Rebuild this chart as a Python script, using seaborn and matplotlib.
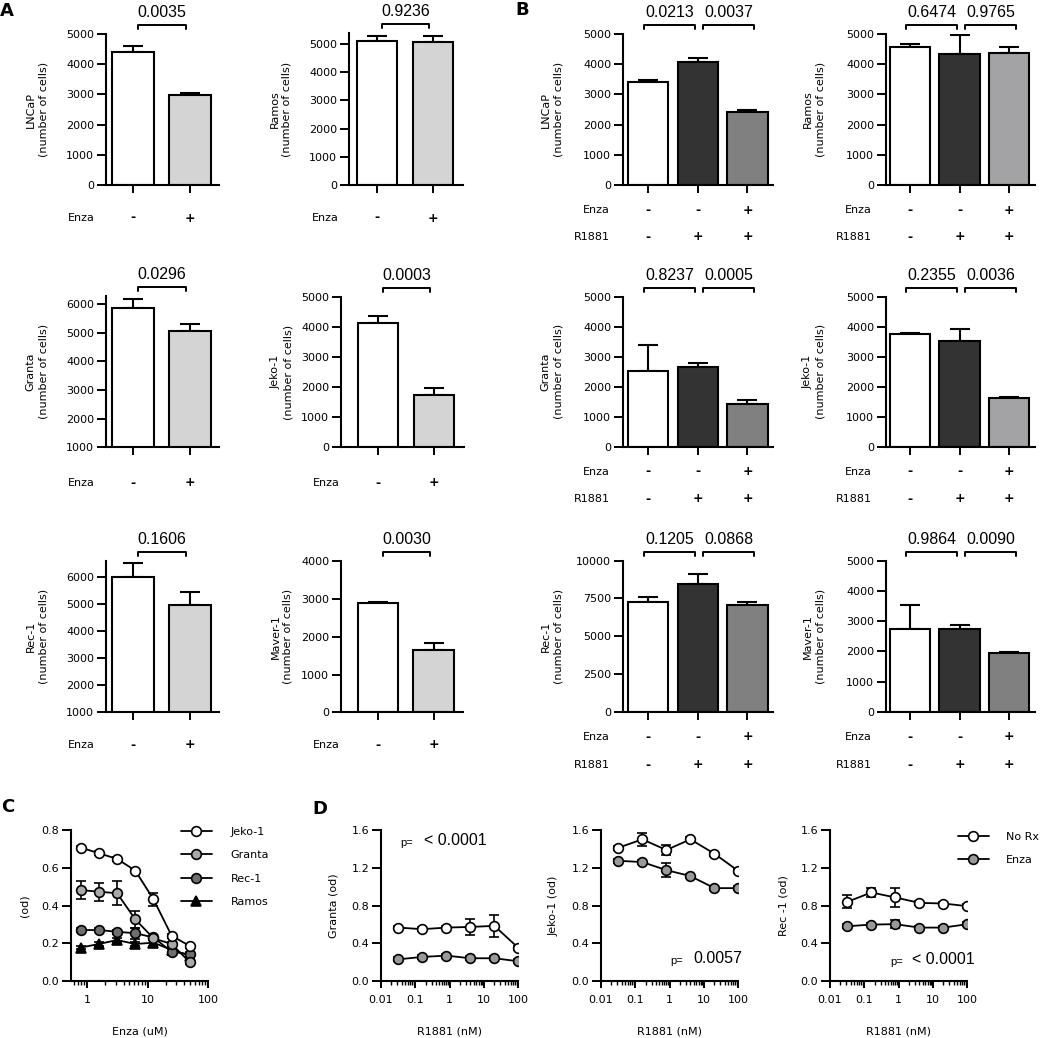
import matplotlib
matplotlib.use("Agg")
import matplotlib.pyplot as plt
import matplotlib.transforms as mtransforms
from matplotlib.ticker import LogLocator, NullFormatter, FormatStrFormatter
import seaborn as sns
import numpy as np

sns.set_theme(style="ticks")
plt.rcParams["font.family"] = ["DejaVu Sans"]
plt.rcParams.update({
    "axes.edgecolor": "black", "xtick.color": "black", "ytick.color": "black",
    "text.color": "black", "axes.labelcolor": "black", "axes.linewidth": 1.5,
})

# ---------------- data ----------------
# panel A : cell counts, Enza - / +
a_enza = ["-", "+"]
a_lncap, a_lncap_err = [4404, 2980], [210, 55]
a_ramos, a_ramos_err = [5095, 5070], [200, 200]
a_granta, a_granta_err = [5860, 5056], [315, 265]
a_jeko, a_jeko_err = [4120, 1727], [250, 250]
a_rec, a_rec_err = [6024, 4953], [500, 515]
a_maver, a_maver_err = [2903, 1642], [25, 185]
a_pvals = ["0.0035", "0.9236", "0.0296", "0.0003", "0.1606", "0.0030"]

# panel B : cell counts, (Enza, R1881) = (-,-), (-,+), (+,+)
b_enza = ["-", "-", "+"]
b_r1881 = ["-", "+", "+"]
b_lncap, b_lncap_err = [3420, 4083, 2407], [55, 130, 85]
b_ramos, b_ramos_err = [4579, 4338, 4360], [100, 640, 200]
b_granta, b_granta_err = [2533, 2647, 1413], [857, 153, 144]
b_jeko, b_jeko_err = [3770, 3530, 1630], [30, 380, 10]
b_rec, b_rec_err = [7245, 8457, 7086], [330, 680, 180]
b_maver, b_maver_err = [2738, 2738, 1944], [805, 123, 40]
b_pvals_lncap = ["0.0213", "0.0037"]
b_pvals_ramos = ["0.6474", "0.9765"]
b_pvals_granta = ["0.8237", "0.0005"]
b_pvals_jeko = ["0.2355", "0.0036"]
b_pvals_rec = ["0.1205", "0.0868"]
b_pvals_maver = ["0.9864", "0.0090"]

# panel C : od vs Enza (uM)
c_conc = [0.78, 1.56, 3.125, 6.25, 12.5, 25, 50]
c_jeko = [0.707, 0.677, 0.647, 0.585, 0.433, 0.240, 0.185]
c_jeko_err = [0.01, 0.01, 0.01, 0.01, 0.035, 0.01, 0.01]
c_granta = [0.482, 0.473, 0.465, 0.327, 0.226, 0.196, 0.099]
c_granta_err = [0.05, 0.048, 0.064, 0.045, 0.01, 0.01, 0.01]
c_rec = [0.270, 0.270, 0.261, 0.253, 0.231, 0.155, 0.141]
c_rec_err = [0.01, 0.01, 0.01, 0.03, 0.01, 0.015, 0.01]
c_ramos = [0.177, 0.196, 0.217, 0.196, 0.203, 0.165, 0.135]
c_ramos_err = [0.01, 0.01, 0.01, 0.01, 0.015, 0.01, 0.01]

# panel D : od vs R1881 (nM)
d_r1881 = [0.032, 0.16, 0.8, 4, 20, 100]
d_granta_norx = [0.566, 0.549, 0.566, 0.573, 0.584, 0.350]
d_granta_norx_err = [0.02, 0.02, 0.02, 0.085, 0.115, 0.02]
d_granta_enza = [0.230, 0.255, 0.269, 0.241, 0.241, 0.209]
d_granta_enza_err = [0.02, 0.02, 0.02, 0.02, 0.02, 0.02]
d_jeko_norx = [1.412, 1.501, 1.388, 1.501, 1.349, 1.165]
d_jeko_norx_err = [0.02, 0.07, 0.05, 0.02, 0.02, 0.02]
d_jeko_enza = [1.274, 1.260, 1.175, 1.112, 0.984, 0.984]
d_jeko_enza_err = [0.02, 0.02, 0.075, 0.02, 0.02, 0.02]
d_rec_norx = [0.839, 0.938, 0.885, 0.828, 0.821, 0.793]
d_rec_norx_err = [0.07, 0.05, 0.1, 0.02, 0.02, 0.02]
d_rec_enza = [0.580, 0.598, 0.602, 0.566, 0.566, 0.602]
d_rec_enza_err = [0.02, 0.02, 0.04, 0.02, 0.02, 0.02]

# ---------------- layout helpers (pixels) ----------------
W, H = 1050, 1038
fig = plt.figure(figsize=(W / 100, H / 100), dpi=100)
PFONT = ["Liberation Sans", "DejaVu Sans"]
FS = 8


def fy(py):
    return 1 - py / H


def add_ax(L, R, top, bottom):
    return fig.add_axes([L / W, fy(bottom), (R - L) / W, (bottom - top) / H])


def style_ax(ax):
    sns.despine(ax=ax)
    for s in ("left", "bottom"):
        ax.spines[s].set_linewidth(1.5)
    ax.tick_params(axis="both", which="major", width=1.4, labelsize=FS, direction="out")
    ax.tick_params(axis="both", which="minor", width=1.0)


def bar_panel(box, xlim, ylim, yticks, label, means, errs, colors, pvals, rows, width):
    L, R, top, bottom = box
    ax = add_ax(L, R, top, bottom)
    n = len(means)
    cats = [str(i) for i in range(n)]
    sns.barplot(x=cats, y=means, hue=cats, palette=colors, legend=False, width=width,
                saturation=1, edgecolor="black", linewidth=1.5, ax=ax, zorder=2)
    ax.errorbar(np.arange(n), means, yerr=[np.zeros(n), errs], fmt="none", ecolor="black",
                elinewidth=1.5, capsize=7.5, capthick=1.5, zorder=1)
    ax.set_xlim(xlim)
    ax.set_ylim(ylim)
    ax.set_yticks(yticks)
    ax.set_yticklabels([str(t) for t in yticks])
    ax.set_xticks(np.arange(n))
    ax.set_xticklabels([])
    ax.set_xlabel("")
    style_ax(ax)
    ax.tick_params(axis="x", length=5.5)
    ax.tick_params(axis="y", length=6.5, pad=2)

    px0 = L + (0 - xlim[0]) / (xlim[1] - xlim[0]) * (R - L)
    ax.set_ylabel(label, fontsize=FS, linespacing=1.3)
    ax.yaxis.set_label_coords((px0 - 85 - L) / (R - L), 0.5)

    trans = mtransforms.blended_transform_factory(ax.transData, fig.transFigure)
    spans = [(0.09, 0.93)] if n == 2 else [(-0.08, 0.95), (1.11, 2.14)]
    yb = fy(top - 9)
    for (x0, x1), p in zip(spans, pvals):
        ax.plot([x0, x0, x1, x1], [yb - 4 / H, yb, yb, yb - 4 / H], transform=trans,
                color="black", lw=1.4, clip_on=False)
        ax.text((x0 + x1) / 2, yb + 8 / H, p, transform=trans, ha="center",
                va="baseline", fontsize=11.5, family=PFONT)
    for name, signs, py in rows:
        for i, s in enumerate(signs):
            ax.text(i, fy(py), s, transform=trans, ha="center", va="center",
                    fontsize=9, fontweight="bold")
        ax.annotate(name, xy=(0, fy(py)), xycoords=trans, xytext=(-27.5, 0),
                    textcoords="offset points", ha="right", va="center", fontsize=FS)
    return ax


A_LEFT = (-0.474, 1.509)
A_COLS = ["white", "#d4d4d4"]
B_LEFT = (-0.503, 2.513)
B_RIGHT = (-0.485, 2.525)
B_COLS = ["white", "#333333", "#808080"]
B_COLS2 = ["white", "#333333", "#a3a3a6"]

# ---- A ----
bar_panel((106, 219, 34, 185), A_LEFT, (0, 5000), range(0, 5001, 1000),
          "LNCaP\n(number of cells)", a_lncap, a_lncap_err, A_COLS, a_pvals[:1],
          [("Enza", a_enza, 218)], 0.72)
bar_panel((349, 463, 33, 185), (-0.5, 1.536), (0, 5390), range(0, 5001, 1000),
          "Ramos\n(number of cells)", a_ramos, a_ramos_err, A_COLS, a_pvals[1:2],
          [("Enza", a_enza, 218)], 0.73)
bar_panel((106, 219, 295.7, 447.3), A_LEFT, (1000, 6300), range(1000, 6001, 1000),
          "Granta\n(number of cells)", a_granta, a_granta_err, A_COLS, a_pvals[2:3],
          [("Enza", a_enza, 483)], 0.72)
bar_panel((341, 464, 296.7, 447.3), (-0.661, 1.536), (0, 5000), range(0, 5001, 1000),
          "Jeko-1\n(number of cells)", a_jeko, a_jeko_err, A_COLS, a_pvals[3:4],
          [("Enza", a_enza, 483)], 0.73)
bar_panel((106, 219, 561, 712.3), A_LEFT, (1000, 6600), range(1000, 6001, 1000),
          "Rec-1\n(number of cells)", a_rec, a_rec_err, A_COLS, a_pvals[4:5],
          [("Enza", a_enza, 745)], 0.72)
bar_panel((341, 463, 561.3, 712.3), (-0.661, 1.52), (0, 4000), range(0, 4001, 1000),
          "Maver-1\n(number of cells)", a_maver, a_maver_err, A_COLS, a_pvals[5:6],
          [("Enza", a_enza, 745)], 0.73)

# ---- B ----
bar_panel((623, 773, 34, 185), B_LEFT, (0, 5000), range(0, 5001, 1000),
          "LNCaP\n(number of cells)", b_lncap, b_lncap_err, B_COLS, b_pvals_lncap,
          [("Enza", b_enza, 210), ("R1881", b_r1881, 237)], 0.81)
bar_panel((886, 1035, 34, 185), B_RIGHT, (0, 5000), range(0, 5001, 1000),
          "Ramos\n(number of cells)", b_ramos, b_ramos_err, B_COLS2, b_pvals_ramos,
          [("Enza", b_enza, 210), ("R1881", b_r1881, 237)], 0.82)
bar_panel((623, 773, 296.7, 446.7), B_LEFT, (0, 5000), range(0, 5001, 1000),
          "Granta\n(number of cells)", b_granta, b_granta_err, B_COLS, b_pvals_granta,
          [("Enza", b_enza, 472), ("R1881", b_r1881, 499)], 0.81)
bar_panel((886, 1035, 296.7, 446.7), B_RIGHT, (0, 5000), range(0, 5001, 1000),
          "Jeko-1\n(number of cells)", b_jeko, b_jeko_err, B_COLS2, b_pvals_jeko,
          [("Enza", b_enza, 472), ("R1881", b_r1881, 499)], 0.82)
bar_panel((623, 773, 560.7, 711.7), B_LEFT, (0, 10000), range(0, 10001, 2500),
          "Rec-1\n(number of cells)", b_rec, b_rec_err, B_COLS, b_pvals_rec,
          [("Enza", b_enza, 737), ("R1881", b_r1881, 765)], 0.81)
bar_panel((886, 1035, 560.7, 711.7), B_RIGHT, (0, 5000), range(0, 5001, 1000),
          "Maver-1\n(number of cells)", b_maver, b_maver_err, B_COLS, b_pvals_maver,
          [("Enza", b_enza, 737), ("R1881", b_r1881, 765)], 0.82)


# ---- C / D line panels ----
def line_series(ax, x, y, err, face, marker, name):
    ax.errorbar(x, y, yerr=err, fmt="none", ecolor="black", elinewidth=1.2,
                capsize=3.5, capthick=1.2, zorder=2)
    sns.lineplot(x=x, y=y, ax=ax, color="black", linewidth=1.3, marker=marker,
                 markersize=7, markerfacecolor=face, markeredgecolor="black",
                 markeredgewidth=1.2, label=name, zorder=3)


def line_axes(box):
    L, R, top, bottom = box
    ax = add_ax(L, R, top, bottom)
    ax.set_xscale("log")
    return ax


def finish_line_axes(ax, box, xlim, major, major_labels, ylim, yticks, xlabel, ylabel):
    L, R, top, bottom = box
    ax.set_xlim(xlim)
    ax.set_ylim(ylim)
    ax.set_xticks(major)
    ax.set_xticklabels(major_labels)
    ax.xaxis.set_minor_locator(LogLocator(base=10, subs=np.arange(2, 10)))
    ax.xaxis.set_minor_formatter(NullFormatter())
    ax.set_yticks(yticks)
    ax.yaxis.set_major_formatter(FormatStrFormatter("%.1f"))
    style_ax(ax)
    ax.tick_params(axis="x", which="major", length=5, pad=5)
    ax.tick_params(axis="x", which="minor", length=3)
    ax.tick_params(axis="y", length=6.5, pad=2)
    ax.set_xlabel(xlabel, fontsize=FS)
    ax.xaxis.set_label_coords(0.5, -(1026 - bottom) / (bottom - top))
    ax.set_ylabel(ylabel, fontsize=FS)
    ax.yaxis.set_label_coords(-42 / (R - L), 0.5)
    if ax.get_legend() is not None:
        ax.get_legend().remove()


c_box = (71, 208, 830, 981)
axc = line_axes(c_box)
line_series(axc, c_conc, c_ramos, c_ramos_err, "black", "^", "Ramos")
line_series(axc, c_conc, c_rec, c_rec_err, "#6e6e6e", "o", "Rec-1")
line_series(axc, c_conc, c_granta, c_granta_err, "#a9a9a9", "o", "Granta")
line_series(axc, c_conc, c_jeko, c_jeko_err, "white", "o", "Jeko-1")
finish_line_axes(axc, c_box, (0.54, 100), [1, 10, 100], ["1", "10", "100"],
                 (0, 0.8), [0, 0.2, 0.4, 0.6, 0.8], "Enza (uM)", "(od)")
h, l = axc.get_legend_handles_labels()
order = ["Jeko-1", "Granta", "Rec-1", "Ramos"]
hd = dict(zip(l, h))
axc.legend([hd[k] for k in order], order, loc="upper left",
           bbox_to_anchor=(181 / W, fy(827)), bbox_transform=fig.transFigure,
           frameon=False, fontsize=FS, handlelength=2.75, handletextpad=1.7,
           labelspacing=1.2, borderpad=0, borderaxespad=0)

d_panels = [
    (381, "Granta (od)", d_granta_norx, d_granta_norx_err, d_granta_enza, d_granta_enza_err,
     [("p=", 400.5, 846, 8), ("< 0.0001", 424, 845, 11.5)]),
    (601, "Jeko-1 (od)", d_jeko_norx, d_jeko_norx_err, d_jeko_enza, d_jeko_enza_err,
     [("p=", 670, 964, 8), ("0.0057", 693, 963, 11.5)]),
    (830, "Rec -1 (od)", d_rec_norx, d_rec_norx_err, d_rec_enza, d_rec_enza_err,
     [("p=", 890, 965, 8), ("< 0.0001", 912, 964, 11.5)]),
]
for L, ylab, norx, norx_err, enza, enza_err, ptexts in d_panels:
    box = (L, L + 137.4, 830, 981)
    ax = line_axes(box)
    line_series(ax, d_r1881, enza, enza_err, "#999999", "o", "Enza")
    line_series(ax, d_r1881, norx, norx_err, "white", "o", "No Rx")
    finish_line_axes(ax, box, (0.01, 100), [0.01, 0.1, 1, 10, 100],
                     ["0.01", "0.1", "1", "10", "100"], (0, 1.6),
                     [0, 0.4, 0.8, 1.2, 1.6], "R1881 (nM)", ylab)
    for s, px, py, fs in ptexts:
        fig.text(px / W, fy(py), s, ha="left", va="baseline", fontsize=fs, family=PFONT)
    last_ax = ax

h, l = last_ax.get_legend_handles_labels()
hd = dict(zip(l, h))
order = ["No Rx", "Enza"]
last_ax.legend([hd[k] for k in order], order, loc="upper left",
               bbox_to_anchor=(958 / W, fy(832)), bbox_transform=fig.transFigure,
               frameon=False, fontsize=FS, handlelength=2.75, handletextpad=1.6,
               labelspacing=1.15, borderpad=0, borderaxespad=0)

# panel letters
for letter, px, py in [("A", 0, 2), ("B", 515, 1), ("C", 1, 798), ("D", 312, 800)]:
    fig.text(px / W, fy(py), letter, ha="left", va="top", fontsize=13, fontweight="bold")

fig.savefig("out.png", dpi=100)
